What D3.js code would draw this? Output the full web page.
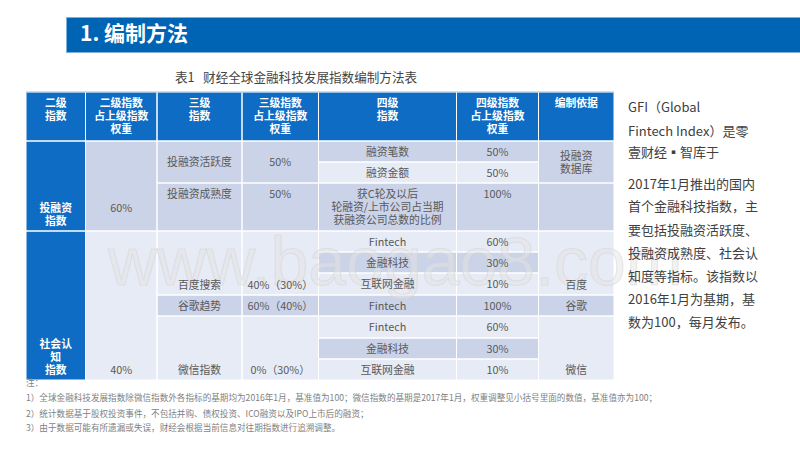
<!DOCTYPE html>
<html><head><meta charset="utf-8">
<script src="https://cdn.jsdelivr.net/npm/d3@7/dist/d3.min.js"></script>
<style>html,body{margin:0;background:#fff;overflow:hidden}svg{display:block}text{font-family:"Noto Sans CJK SC","Noto Sans",sans-serif}</style>
</head><body><svg id="c" width="800" height="450"></svg>
<script>
// ---- content ----
const titleText = "1. 编制方法";
const captionText = "表1   财经全球金融科技发展指数编制方法表";
const headers = ["二级\n指数","二级指数\n占上级指数\n权重","三级\n指数","三级指数\n占上级指数\n权重","四级\n指数","四级指数\n占上级指数\n权重","编制依据"];
const level2Names = ["投融资\n指数","社会认\n知\n指数"];
const level2Weights = ["60%","40%"];
const level3Names = ["投融资活跃度","投融资成熟度","百度搜索","谷歌趋势","微信指数"];
const level3Weights = ["50%","50%","40%（30%）","60%（40%）","0%（30%）"];
const level4Names = ["融资笔数","融资金额","获C轮及以后\n轮融资/上市公司占当期\n获融资公司总数的比例","Fintech","金融科技","互联网金融","Fintech","Fintech","金融科技","互联网金融"];
const level4Weights = ["50%","50%","100%","60%","30%","10%","100%","60%","30%","10%"];
const sources = ["投融资\n数据库","","百度","谷歌","微信"];
const sideText = ["GFI（Global","Fintech Index）是零","壹财经▪智库于","2017年1月推出的国内","首个金融科技指数，主","要包括投融资活跃度、","投融资成熟度、社会认","知度等指标。该指数以","2016年1月为基期，基","数为100，每月发布。"];
const notes = ["注：","1）全球金融科技发展指数除微信指数外各指标的基期均为2016年1月，基准值为100；微信指数的基期是2017年1月，权重调整见小括号里面的数值，基准值亦为100；","2）统计数据基于股权投资事件，不包括并购、债权投资、ICO融资以及IPO上市后的融资；","3）由于数据可能有所遗漏或失误，财经会根据当前信息对往期指数进行追溯调整。"];
const watermark = "www.baogao8.com";

// ---- layout ----
const colX = d3.scaleLinear().domain(d3.range(8)).range([26,85.5,157,242,318.5,456.5,538.5,614]);
const rowY = d3.scaleLinear().domain(d3.range(12)).range([92,141,162,183,231,252,273,295,316,338,359,380]);
const BLUE="#0f6cc4", DARK="#cbd3e9", LIGHT="#e7ebf5";
const INK="#595959";
const svg=d3.select("#c");

// banner
svg.append("rect").attr("x",66.5).attr("y",17.5).attr("width",740).attr("height",35).attr("fill","#0064b4").attr("stroke","#7fb0da");
svg.append("text").attr("x",80).attr("y",41).attr("fill","#fff").attr("font-size",21).attr("font-weight",700).text(titleText);
svg.append("text").attr("x",175).attr("y",81.5).attr("fill","#444").attr("font-size",12.6).attr("xml:space","preserve").style("white-space","pre").text(captionText);

// cell model: [col,rowStart,rowEnd,text,fill,align,color,bold]
const cells=[];
const add=(c,r0,r1,t,f,a,col,b)=>cells.push({c,r0,r1,t,f,a,col:col||INK,b:!!b});
headers.forEach((h,i)=>add(i,0,1,h,BLUE,"t","#fff",true));
add(0,1,4,level2Names[0],BLUE,"b","#fff",true);
add(0,4,11,level2Names[1],BLUE,"b","#fff",true);
add(1,1,4,level2Weights[0],DARK,"m2");
add(1,4,11,level2Weights[1],LIGHT,"b");
const l3Spans=[[1,3,DARK,"m"],[3,4,DARK,"t"],[4,7,LIGHT,"b"],[7,8,DARK,"m"],[8,11,LIGHT,"b"]];
l3Spans.forEach((s,i)=>{add(2,s[0],s[1],level3Names[i],s[2],s[3]);add(3,s[0],s[1],level3Weights[i],s[2],s[3]);});
const l4Fill=[DARK,LIGHT,DARK,LIGHT,DARK,LIGHT,DARK,LIGHT,DARK,LIGHT];
level4Names.forEach((t,i)=>{add(4,i+1,i+2,t,l4Fill[i],"m");add(5,i+1,i+2,level4Weights[i],l4Fill[i],i==2?"t":"m");});
l3Spans.forEach((s,i)=>add(6,s[0],s[1],sources[i],s[2],s[3]));

const LH=13;
const g=svg.append("g").selectAll("g").data(cells).join("g");
g.append("rect").attr("x",d=>colX(d.c)).attr("y",d=>rowY(d.r0)).attr("width",d=>colX(d.c+1)-colX(d.c)).attr("height",d=>rowY(d.r1)-rowY(d.r0)).attr("fill",d=>d.f);
// white grid on top
svg.append("g").selectAll("rect").data(cells).join("rect").attr("x",d=>colX(d.c)).attr("y",d=>rowY(d.r0)).attr("width",d=>colX(d.c+1)-colX(d.c)).attr("height",d=>rowY(d.r1)-rowY(d.r0)).attr("fill","none").attr("stroke","#fff").attr("stroke-width",1);
svg.append("line").attr("x1",colX(0)).attr("x2",colX(7)).attr("y1",rowY(0)).attr("y2",rowY(0)).attr("stroke","#9cc3e6");

// watermark sits between fills and text
svg.append("text").attr("x",108).attr("y",285).attr("font-size",68).style("font-family","'Liberation Sans'").attr("fill","#e3e3e3").attr("fill-opacity",.5).attr("stroke","#d0d0d0").attr("stroke-opacity",.45).attr("stroke-width",1).text(watermark);

const tg=svg.append("g").selectAll("text").data(cells).join("text").attr("text-anchor","middle").attr("font-size",d=>d.b?10.8:10.8).attr("font-weight",d=>d.b?700:400).attr("fill",d=>d.col);
tg.each(function(d){
  const lines=d.t.split("\n"),n=lines.length,top=rowY(d.r0),bot=rowY(d.r1);
  let y0;
  if(d.a==="t") y0=top+15;
  else if(d.a==="b") y0=bot-6.5-(n-1)*LH;
  else if(d.a==="m2") y0=212;
  else y0=(top+bot)/2+4-(n-1)*LH/2;
  const cx=(colX(d.c)+colX(d.c+1))/2;
  d3.select(this).selectAll("tspan").data(lines).join("tspan").attr("x",cx).attr("y",(l,i)=>y0+i*LH).text(l=>l);
});

// side text
const sideY=d3.scaleOrdinal().domain(d3.range(10)).range([112,136,157,189,211,235,258,281,304,327]);
svg.append("g").selectAll("text").data(sideText).join("text").attr("x",628).attr("y",(d,i)=>sideY(i)).attr("font-size",13).attr("fill","#404040").text(d=>d);

// notes
const noteY=d3.scaleOrdinal().domain(d3.range(4)).range([386,401,417,431]);
svg.append("g").selectAll("text").data(notes).join("text").attr("x",26).attr("y",(d,i)=>noteY(i)).attr("font-size",8.6).attr("fill","#7f7f7f").text(d=>d);
</script></body></html>
